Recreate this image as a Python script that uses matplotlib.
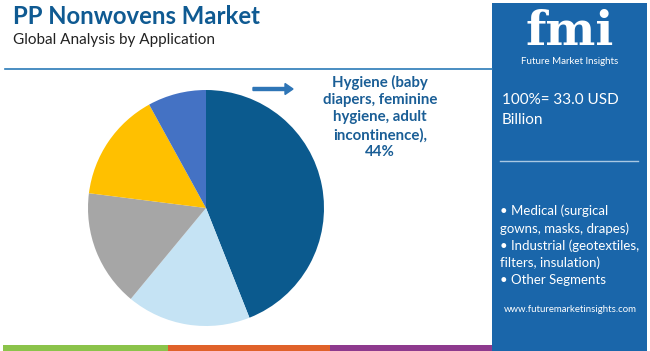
import matplotlib.pyplot as plt
from matplotlib.patches import Rectangle, FancyArrow

# data
segments = ["Hygiene (baby diapers, feminine hygiene, adult incontinence)",
            "Medical (surgical gowns, masks, drapes)",
            "Industrial (geotextiles, filters, insulation)",
            "Other Segments", "Others"]
shares = [44, 17, 16, 15, 8]
colors = ["#0b5a8e", "#c5e3f4", "#a6a6a6", "#ffc000", "#4472c4"]
total_label = "100%= 33.0 USD\nBillion"
bullets = ["• Medical (surgical", "gowns, masks, drapes)", "• Industrial (geotextiles,",
           "filters, insulation)", "• Other Segments"]

W, H = 650, 351
fig = plt.figure(figsize=(W / 100, H / 100), dpi=100)
fig.patch.set_facecolor("white")
plt.rcParams['font.family'] = ['Lato', 'DejaVu Sans']

def px(x, y):
    return x / W, 1 - y / H

# title block
fig.text(*px(13, 17), "PP Nonwovens Market", fontsize=17.2, fontweight="bold",
         color="#0f5a92", va="center", ha="left")
fig.text(*px(13, 40), "Global Analysis by Application", fontsize=11,
         color="#222222", va="center", ha="left")
fig.add_artist(plt.Line2D([5 / W, 492 / W], [1 - 69 / H] * 2, color="#2a7ab8", lw=1.2))

# bottom stripes
for x0, x1, c in [(3, 168, "#8bc34a"), (168, 330, "#e0622a"), (330, 492, "#8e3a8e")]:
    fig.add_artist(Rectangle((x0 / W, 0), (x1 - x0) / W, 6 / H, color=c, lw=0))

# pie
cx, cy, r = 206, 208, 118
ax = fig.add_axes([(cx - r) / W, (H - cy - r) / H, 2 * r / W, 2 * r / H])
ax.pie(shares, colors=colors, startangle=90, counterclock=False,
       wedgeprops=dict(linewidth=0))
ax.set_xlim(-1, 1)
ax.set_ylim(-1, 1)
ax.set_aspect("equal")
ax.axis("off")

# annotation
fig.add_artist(FancyArrow(253 / W, 1 - 89 / H, 32 / W, 0, width=3 / H,
                          head_width=11 / H, head_length=8 / W,
                          color="#2e75b6", length_includes_head=False))
fig.text(*px(380, 117), "Hygiene (baby\ndiapers, feminine\nhygiene, adult\nincontinence),\n44%",
         fontsize=10.8, fontweight="bold", color="#1a5e96", ha="center", va="center",
         linespacing=1.3)

# right panel
fig.add_artist(Rectangle((492 / W, 0), 155 / W, 348 / H, color="#1a66aa", lw=0))
fig.text(*px(570, 32), "fmi", fontsize=34, fontweight="bold", family="DejaVu Serif",
         color="white", ha="center", va="center")
fig.text(*px(570, 61), "Future Market Insights", fontsize=7, color="white",
         ha="center", va="center")
fig.text(*px(502, 110), total_label, fontsize=11, color="white", ha="left",
         va="center", linespacing=1.6)
fig.add_artist(plt.Line2D([500 / W, 638 / W], [1 - 161 / H] * 2, color="#a9c8e3", lw=1))
for i, b in enumerate(bullets):
    fig.text(*px(500, 211 + i * 17.3), b, fontsize=9.5, color="white",
             ha="left", va="center")
fig.text(*px(570, 310), "www.futuremarketinsights.com", fontsize=6.9,
         color="white", ha="center", va="center")

fig.savefig("out.png", dpi=100)
